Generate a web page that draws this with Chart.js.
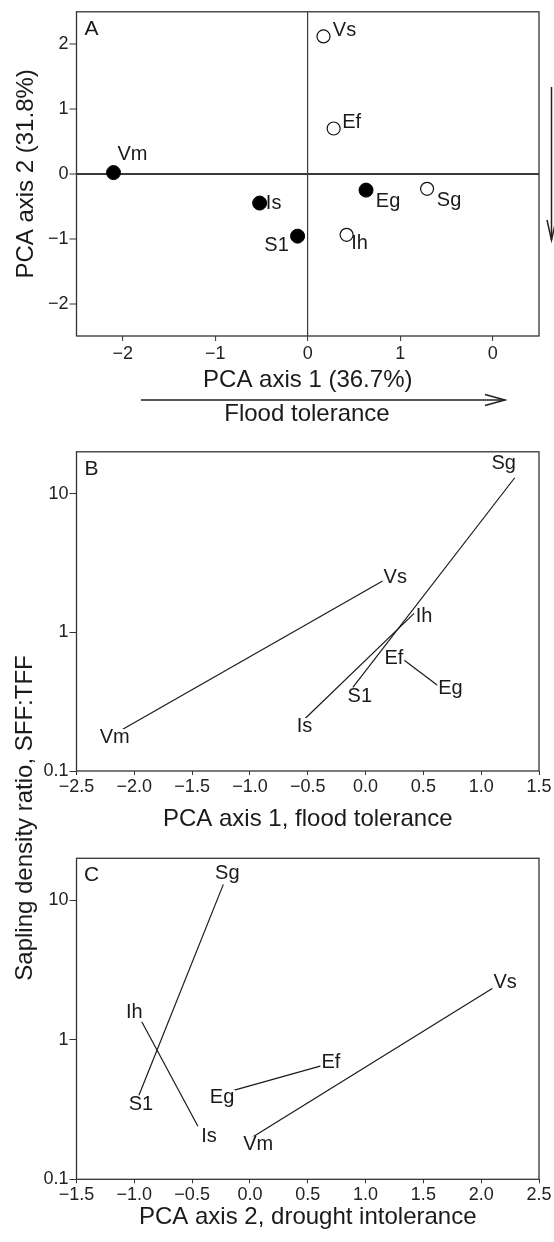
<!DOCTYPE html>
<html>
<head>
<meta charset="utf-8">
<script src="https://cdn.jsdelivr.net/npm/chart.js@4.4.1/dist/chart.umd.min.js"></script>
<style>
  html, body { margin: 0; padding: 0; background: #fff; }
  #page { position: relative; width: 554px; height: 1242px; overflow: hidden; }
  .panel { position: absolute; left: 0; width: 554px; }
</style>
</head>
<body>
<div id="page">
  <div class="panel" style="top:0;height:440px"><canvas id="panelA"></canvas></div>
  <div class="panel" style="top:440px;height:560px"><canvas id="panelB"></canvas></div>
  <div class="panel" style="top:840px;height:402px"><canvas id="panelC"></canvas></div>
</div>
<script>
// species codes, in the same order in every array below
const species = ['Vm', 'Is', 'S1', 'Eg', 'Vs', 'Ef', 'Sg', 'Ih'];
const filledSymbol = [true, true, true, true, false, false, false, false];
const pcaAxis1 = [-2.10, -0.52, -0.11, 0.63, 0.17, 0.28, 1.29, 0.42];
const pcaAxis2 = [0.02, -0.45, -0.96, -0.25, 2.12, 0.70, -0.23, -0.94];
const saplingRatio = [0.20, 0.24, 0.40, 0.41, 2.4, 0.68, 13, 1.37];
// congeneric pairs joined by a line in B and C
const congenerPairs = [['Vm', 'Vs'], ['Is', 'Ih'], ['S1', 'Sg'], ['Ef', 'Eg']];

// tick values and labels (the last x label of panel A reads "0" in the original)
const pcaTicks = [-2, -1, 0, 1, 2];
const pcaTickLabelsX = ['\u22122', '\u22121', '0', '1', '0'];
const pcaTickLabelsY = ['\u22122', '\u22121', '0', '1', '2'];
const floodTicks = [-2.5, -2.0, -1.5, -1.0, -0.5, 0.0, 0.5, 1.0, 1.5];
const floodTickLabels = ['\u22122.5', '\u22122.0', '\u22121.5', '\u22121.0', '\u22120.5', '0.0', '0.5', '1.0', '1.5'];
const droughtTicks = [-1.5, -1.0, -0.5, 0.0, 0.5, 1.0, 1.5, 2.0, 2.5];
const droughtTickLabels = ['\u22121.5', '\u22121.0', '\u22120.5', '0.0', '0.5', '1.0', '1.5', '2.0', '2.5'];
const ratioTicks = [0.1, 1, 10];
const ratioTickLabels = ['0.1', '1', '10'];

// where each species label sits relative to its point, in px
const labelOffsetA = { Vm: [19, -18], Is: [14, 0], S1: [-21, 9], Eg: [22, 11], Vs: [21, -6], Ef: [18, -6], Sg: [22, 12], Ih: [13, 9] };
const labelOffsetB = { Vm: [-8, 8], Is: [-1, 8], S1: [7, 9], Eg: [12, 2], Vs: [10, -2], Ef: [-4, 3], Sg: [-11, -14], Ih: [10, 3] };
const labelOffsetC = { Vm: [6, 7], Is: [11, 10], S1: [2, 9], Eg: [1, 4], Vs: [10, -4], Ef: [0, -1], Sg: [4, -11], Ih: [-7, -8] };

const FONT = '"Liberation Sans", Arial, Helvetica, sans-serif';
const INK = '#1a1a1a';

function fixedTicks(values) {
  return s => { s.ticks = values.map(v => ({ value: v })); };
}

function makeDecor(letter, xValues, yValues, offsets, boxed, extra) {
  return {
    id: 'decor' + letter,
    beforeDatasetsDraw(chart) {
      const { ctx, chartArea: a } = chart;
      ctx.save();
      ctx.strokeStyle = '#333';
      ctx.lineWidth = 1.3;
      ctx.strokeRect(a.left, a.top, a.right - a.left, a.bottom - a.top);
      ctx.restore();
    },
    afterDatasetsDraw(chart) {
      const { ctx, chartArea: a, scales } = chart;
      ctx.save();
      ctx.font = '20px ' + FONT;
      ctx.textAlign = 'center';
      ctx.textBaseline = 'middle';
      species.forEach((name, i) => {
        const px = scales.x.getPixelForValue(xValues[i]) + offsets[name][0];
        const py = scales.y.getPixelForValue(yValues[i]) + offsets[name][1];
        if (boxed) {
          const w = ctx.measureText(name).width + 2;
          ctx.fillStyle = '#fff';
          ctx.fillRect(px - w / 2, py - 8, w, 17);
        }
        ctx.fillStyle = INK;
        ctx.fillText(name, px, py);
      });
      ctx.font = '21px ' + FONT;
      ctx.fillText(letter, a.left + 15, a.top + 17);
      if (extra) extra(chart);
      ctx.restore();
    }
  };
}

function baseScales(xTicks, xLabels, yTicks, yLabels, xHeight, xTitle, xTitlePad) {
  return {
    x: {
      type: 'linear',
      min: xTicks[0], max: xTicks[xTicks.length - 1],
      afterBuildTicks: fixedTicks(xTicks),
      afterFit: s => { s.height = xHeight; },
      border: { display: false },
      grid: { drawOnChartArea: false, tickLength: 4, tickColor: '#333', tickWidth: 1 },
      ticks: { callback: (v, i) => xLabels[i], autoSkip: false, maxRotation: 0, padding: 1,
               color: '#222', font: { size: 18, family: FONT } },
      title: { display: true, text: xTitle, color: INK, font: { size: 24, family: FONT },
               padding: { top: 0, bottom: xTitlePad } }
    },
    y: {
      type: 'logarithmic',
      min: 0.1, max: 20,
      afterBuildTicks: fixedTicks(yTicks),
      afterFit: s => { s.width = 76.5; },
      border: { display: false },
      grid: { drawOnChartArea: false, tickLength: 7, tickColor: '#333', tickWidth: 1 },
      ticks: { callback: (v, i) => yLabels[i], autoSkip: false, padding: 1,
               color: '#222', font: { size: 18, family: FONT } }
    }
  };
}

// ---------- Panel A ----------
const pointsA = species.map((s, i) => ({ x: pcaAxis1[i], y: pcaAxis2[i] }));
const zeroColor = c => (c.tick && c.tick.value === 0 ? '#3a3a3a' : 'rgba(0,0,0,0)');

new Chart(document.getElementById('panelA'), {
  type: 'scatter',
  data: {
    datasets: [
      { data: pointsA.filter((p, i) => filledSymbol[i]), pointRadius: 7,
        backgroundColor: '#000', borderColor: '#000', borderWidth: 1 },
      { data: pointsA.filter((p, i) => !filledSymbol[i]), pointRadius: 6.5,
        backgroundColor: '#fff', borderColor: '#111', borderWidth: 1.2 }
    ]
  },
  options: {
    animation: false,
    responsive: true,
    maintainAspectRatio: false,
    layout: { padding: { top: 10, right: 15, left: 0, bottom: 0 } },
    plugins: { legend: { display: false }, tooltip: { enabled: false } },
    scales: {
      x: {
        type: 'linear', min: -2.5, max: 2.5,
        afterBuildTicks: fixedTicks(pcaTicks),
        afterFit: s => { s.height = 104; },
        border: { display: false },
        grid: { color: zeroColor, lineWidth: 1.2, tickLength: 5, tickColor: '#333', tickWidth: 1 },
        ticks: { callback: (v, i) => pcaTickLabelsX[i], autoSkip: false, maxRotation: 0, padding: 2,
                 color: '#222', font: { size: 18, family: FONT } },
        title: { display: true, text: 'PCA axis 1 (36.7%)', color: INK, font: { size: 24, family: FONT },
                 padding: { top: 0, bottom: 45 } }
      },
      y: {
        type: 'linear', min: -2.5, max: 2.5,
        afterBuildTicks: fixedTicks(pcaTicks),
        afterFit: s => { s.width = 76.5; },
        border: { display: false },
        grid: { color: zeroColor, lineWidth: 2, tickLength: 7, tickColor: '#333', tickWidth: 1 },
        ticks: { callback: (v, i) => pcaTickLabelsY[i], autoSkip: false, padding: 1,
                 color: '#222', font: { size: 18, family: FONT } },
        title: { display: true, text: 'PCA axis 2 (31.8%)', color: INK, font: { size: 24, family: FONT },
                 padding: { top: 12, bottom: 0 } }
      }
    }
  },
  plugins: [makeDecor('A', pcaAxis1, pcaAxis2, labelOffsetA, false, chart => {
    const ctx = chart.ctx;
    ctx.fillStyle = INK;
    ctx.font = '24px ' + FONT;
    ctx.textAlign = 'center';
    ctx.textBaseline = 'middle';
    ctx.fillText('Flood tolerance', 307, 414);
    ctx.strokeStyle = '#222';
    ctx.lineWidth = 1.5;
    // horizontal arrow under the x title
    ctx.beginPath();
    ctx.moveTo(141, 400);
    ctx.lineTo(505, 400);
    ctx.stroke();
    ctx.beginPath();
    ctx.moveTo(485, 394.5);
    ctx.lineTo(505, 400);
    ctx.lineTo(485, 405.5);
    ctx.stroke();
    // vertical arrow at the right edge
    ctx.beginPath();
    ctx.moveTo(551.5, 87);
    ctx.lineTo(551.5, 240);
    ctx.stroke();
    ctx.beginPath();
    ctx.moveTo(547, 220);
    ctx.lineTo(551.5, 240);
    ctx.lineTo(556, 220);
    ctx.stroke();
  })]
});

// ---------- Panels B and C ----------
function pairDatasets(xValues) {
  return congenerPairs.map(pair => ({
    data: pair.map(n => {
      const i = species.indexOf(n);
      return { x: xValues[i], y: saplingRatio[i] };
    }),
    showLine: true,
    pointRadius: 0,
    borderColor: INK,
    borderWidth: 1.2
  }));
}

new Chart(document.getElementById('panelB'), {
  type: 'scatter',
  data: { datasets: pairDatasets(pcaAxis1) },
  options: {
    animation: false,
    responsive: true,
    maintainAspectRatio: false,
    layout: { padding: { top: 9, right: 15, left: 0, bottom: 160 } },
    plugins: { legend: { display: false }, tooltip: { enabled: false } },
    scales: baseScales(floodTicks, floodTickLabels, ratioTicks, ratioTickLabels, 69,
                       'PCA axis 1, flood tolerance', 6)
  },
  plugins: [makeDecor('B', pcaAxis1, saplingRatio, labelOffsetB, true, chart => {
    const ctx = chart.ctx;
    ctx.save();
    ctx.translate(25, 378);
    ctx.rotate(-Math.PI / 2);
    ctx.fillStyle = INK;
    ctx.font = '24px ' + FONT;
    ctx.textAlign = 'center';
    ctx.textBaseline = 'middle';
    ctx.fillText('Sapling density ratio, SFF:TFF', 0, 0);
    ctx.restore();
  })]
});

new Chart(document.getElementById('panelC'), {
  type: 'scatter',
  data: { datasets: pairDatasets(pcaAxis2) },
  options: {
    animation: false,
    responsive: true,
    maintainAspectRatio: false,
    layout: { padding: { top: 18.3, right: 15, left: 0, bottom: 0 } },
    plugins: { legend: { display: false }, tooltip: { enabled: false } },
    scales: baseScales(droughtTicks, droughtTickLabels, ratioTicks, ratioTickLabels, 62.7,
                       'PCA axis 2, drought intolerance', 10.5)
  },
  plugins: [makeDecor('C', pcaAxis2, saplingRatio, labelOffsetC, true, null)]
});
</script>
</body>
</html>
